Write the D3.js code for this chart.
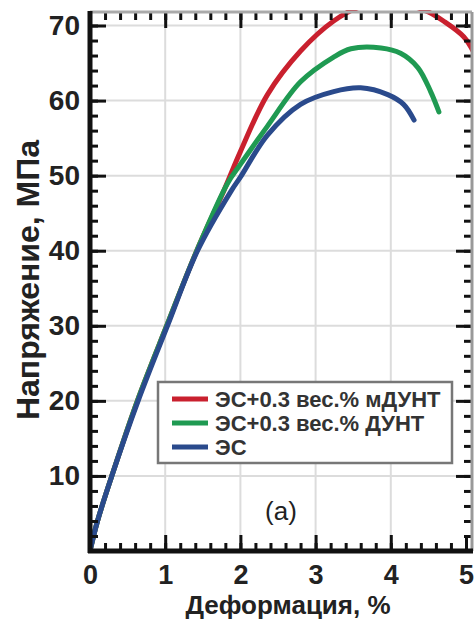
<!DOCTYPE html>
<html><head><meta charset="utf-8">
<script src="https://cdn.jsdelivr.net/npm/d3@7"></script>
<style>body{margin:0;background:#fff}svg{display:block}text{font-family:"Liberation Sans",Arial,sans-serif}</style>
</head><body><svg id="c" width="476" height="621"></svg>
<script>
const xTicks = [0,1,2,3,4,5];
const yTicks = [10,20,30,40,50,60,70];
const seriesNames = ["ЭС+0.3 вес.% мДУНТ","ЭС+0.3 вес.% ДУНТ","ЭС"];
const seriesColors = ["#c9202e","#1f9a52","#2a4a8c"];
const redX = [0,0.1,0.29,0.63,1.02,1.42,1.78,2.0,2.36,2.8,3.24,3.57,3.9,4.2,4.5,4.7,4.97,5.1];
const redY = [0,4,10,20,30,40,48,53.2,60.8,66.6,70.6,72.4,72.9,72.8,71.8,70.6,68.5,66.5];
const greenX = [0,0.1,0.29,0.63,1.02,1.42,1.83,2.0,2.36,2.8,3.24,3.47,3.87,4.13,4.36,4.53,4.64];
const greenY = [0,4,10,20,30,40,49,51.5,56.6,62.5,65.8,66.9,67.0,66.3,64.4,61.2,58.5];
const blueX = [0,0.1,0.29,0.64,1.03,1.43,1.88,2.0,2.36,2.8,3.24,3.6,3.96,4.17,4.31];
const blueY = [0,4,10,20,30,40,48,49.8,55.4,59.5,61.2,61.7,60.8,59.5,57.4];

const svg = d3.select("#c");
const L=90,R=472,T=12,B=551;
const x = d3.scaleLinear().domain([0,5.08]).range([L,R]);
const y = d3.scaleLinear().domain([0,71.8]).range([B,T]);

// grid
const g = svg.append("g");
g.selectAll(".gx").data([1,2,3,4]).join("line").attr("x1",d=>x(d)).attr("x2",d=>x(d)).attr("y1",T).attr("y2",B).attr("stroke","#dcdcdc").attr("stroke-width",2);
g.selectAll(".gy").data(yTicks).join("line").attr("y1",d=>y(d)).attr("y2",d=>y(d)).attr("x1",L).attr("x2",R).attr("stroke","#dcdcdc").attr("stroke-width",2);

// curves
svg.append("clipPath").attr("id","clip").append("rect").attr("x",L).attr("y",T-2).attr("width",R-L).attr("height",B-T+2);
const line = d3.line().x(d=>x(d[0])).y(d=>y(d[1])).curve(d3.curveCatmullRom);
const series = [d3.zip(redX,redY), d3.zip(greenX,greenY), d3.zip(blueX,blueY)];
svg.append("g").attr("clip-path","url(#clip)").selectAll("path").data(series).join("path")
  .attr("d",line).attr("fill","none").attr("stroke",(d,i)=>seriesColors[i]).attr("stroke-width",5).attr("stroke-linecap","round");

// axes
function styleAxis(sel){
  sel.select(".domain").remove();
  sel.selectAll(".tick line").attr("stroke","#111").attr("stroke-width",3);
}
const minorX = d3.range(0,5.01,0.2);
const minorY = d3.range(0,71,2);
svg.append("g").attr("transform",`translate(0,${B})`).call(d3.axisBottom(x).tickValues(minorX).tickSize(-8).tickFormat("")).call(styleAxis);
svg.append("g").attr("transform",`translate(0,${B})`).call(d3.axisBottom(x).tickValues(xTicks).tickSize(-16).tickPadding(14).tickFormat(d3.format("d"))).call(styleAxis)
  .selectAll("text").attr("font-size",27).attr("font-weight","bold").attr("fill","#222");
svg.append("g").attr("transform",`translate(0,${T})`).call(d3.axisTop(x).tickValues(minorX).tickSize(-8).tickFormat("")).call(styleAxis);
svg.append("g").attr("transform",`translate(0,${T})`).call(d3.axisTop(x).tickValues(xTicks).tickSize(-16).tickFormat("")).call(styleAxis);
svg.append("g").attr("transform",`translate(${L},0)`).call(d3.axisLeft(y).tickValues(minorY).tickSize(-8).tickFormat("")).call(styleAxis);
svg.append("g").attr("transform",`translate(${L},0)`).call(d3.axisLeft(y).tickValues(yTicks).tickSize(-16).tickPadding(10).tickFormat(d3.format("d"))).call(styleAxis)
  .selectAll("text").attr("font-size",28).attr("font-weight","bold").attr("fill","#222");
svg.append("g").attr("transform",`translate(${R},0)`).call(d3.axisRight(y).tickValues(minorY).tickSize(-8).tickFormat("")).call(styleAxis);
svg.append("g").attr("transform",`translate(${R},0)`).call(d3.axisRight(y).tickValues(yTicks).tickSize(-16).tickFormat("")).call(styleAxis);

// frame
svg.append("line").attr("x1",L).attr("x2",R).attr("y1",T).attr("y2",T).attr("stroke","#aaa").attr("stroke-width",3);
svg.append("line").attr("x1",R).attr("x2",R).attr("y1",T).attr("y2",B).attr("stroke","#999").attr("stroke-width",3);
svg.append("line").attr("x1",L).attr("x2",L).attr("y1",T-1).attr("y2",B+2).attr("stroke","#111").attr("stroke-width",5);
svg.append("line").attr("x1",L-2).attr("x2",R+1).attr("y1",B).attr("y2",B).attr("stroke","#111").attr("stroke-width",5);

// axis titles
svg.append("text").attr("x",288).attr("y",614).attr("text-anchor","middle").attr("font-size",26).attr("font-weight","bold").attr("fill","#222").text("Деформация, %");
svg.append("text").attr("transform","translate(39,280) rotate(-90)").attr("text-anchor","middle").attr("font-size",32).attr("font-weight","bold").attr("fill","#222").text("Напряжение, МПа");

// legend
const lg = svg.append("g");
lg.append("rect").attr("x",158).attr("y",382).attr("width",294).attr("height",81).attr("fill","#fff").attr("stroke","#777").attr("stroke-width",2.5);
const rows = lg.selectAll("g.r").data(seriesNames).join("g").attr("transform",(d,i)=>`translate(0,${399+i*24})`);
rows.append("line").attr("x1",172).attr("x2",208).attr("stroke",(d,i)=>seriesColors[i]).attr("stroke-width",5);
rows.append("text").attr("x",215).attr("y",8).attr("font-size",22).attr("font-weight","bold").attr("fill","#333").text(d=>d);

svg.append("text").attr("x",281).attr("y",520).attr("text-anchor","middle").attr("font-size",26).attr("fill","#222").text("(a)");
</script></body></html>
